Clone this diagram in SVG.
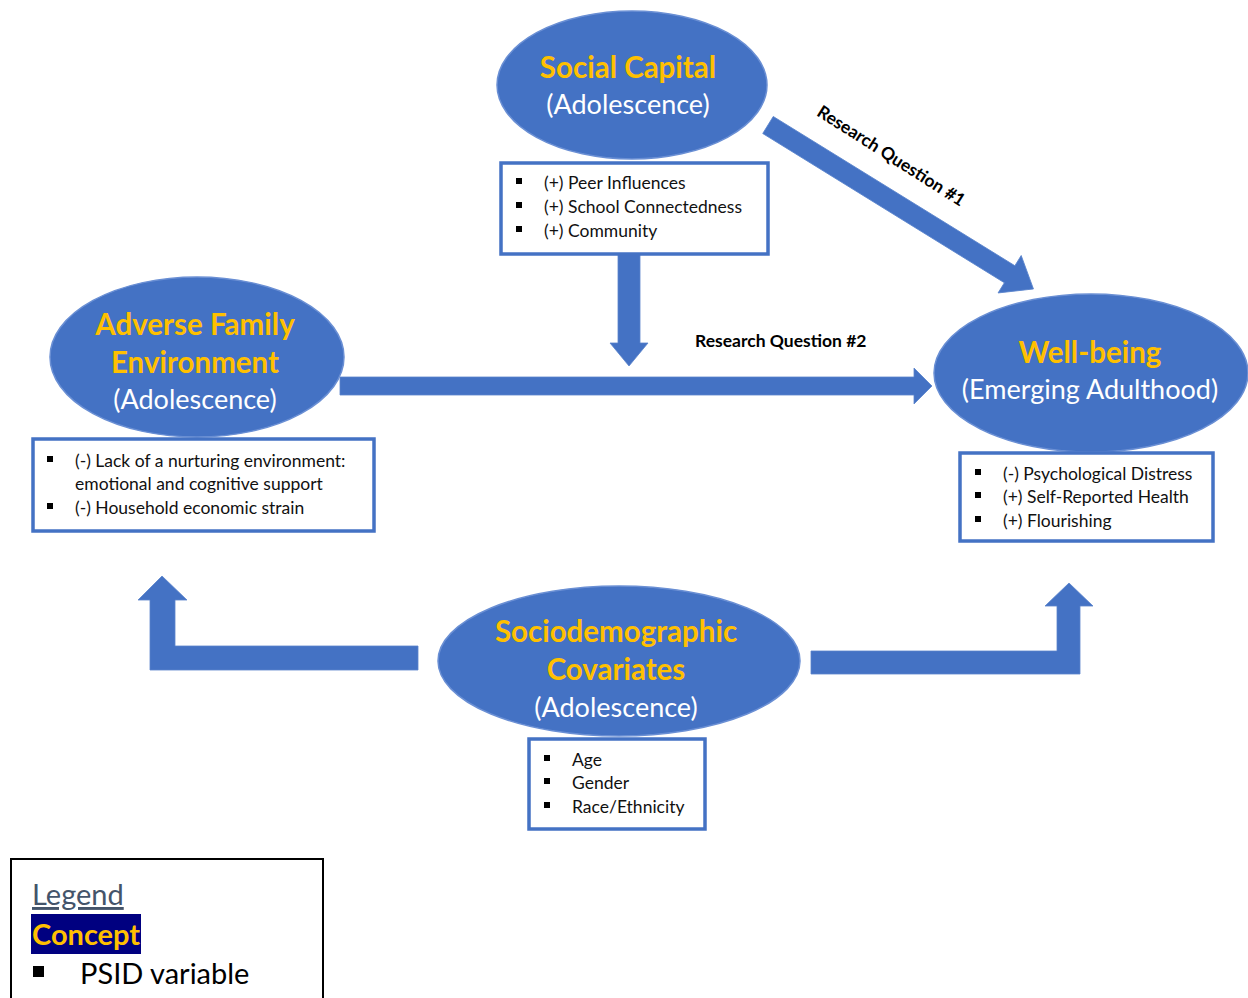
<svg xmlns="http://www.w3.org/2000/svg" width="1248" height="998" viewBox="0 0 1248 998">
<style>
.ell{fill:#4472c4;stroke:#6a8fd4;stroke-width:1.5}
.title{font-family:Lato,"Open Sans",sans-serif;font-weight:bold;fill:#ffc000;font-size:29.5px;text-anchor:middle}
.sub{font-family:Lato,"Open Sans",sans-serif;fill:#ffffff;font-size:27px;text-anchor:middle}
.box{fill:#ffffff;stroke:#4472c4;stroke-width:3.5}
.item{font-family:Lato,"Open Sans",sans-serif;fill:#111;font-size:17.5px}
.arrow{fill:#4472c4;stroke:#5b84cc;stroke-width:0.8}
.lbl{font-family:Lato,"Open Sans",sans-serif;font-weight:bold;fill:#000;font-size:17.5px}
.leg{font-family:Lato,"Open Sans",sans-serif;font-size:29px}
</style>
<rect width="1248" height="998" fill="#ffffff"/>
<g id="connectors">
  <polygon class="arrow" points="618,254 640,254 640,343 648,343 629,366 610,343 618,343"/>
  <polygon class="arrow" points="340,377 914,377 914,368 932,386 914,404 914,395 340,395"/>
  <g transform="translate(768,125) rotate(31.7)">
    <polygon class="arrow" points="0,-10 284,-10 284,-22 312,0 284,22 284,10 0,10"/>
  </g>
  <text class="lbl" transform="translate(888,161) rotate(32.5)" text-anchor="middle">Research Question #1</text>
  <text class="lbl" x="695" y="347">Research Question #2</text>
  <polygon class="arrow" points="418,646 418,670 150,670 150,600 138,600 162,576 187,600 175,600 175,646"/>
  <polygon class="arrow" points="811,651 1057,651 1057,606 1045,606 1069,583 1093,606 1080,606 1080,674 811,674"/>
</g>
<g id="social-capital">
  <ellipse class="ell" cx="632" cy="85" rx="135" ry="74"/>
  <text class="title" x="628" y="78">Social Capital</text>
  <text class="sub" x="628" y="114">(Adolescence)</text>
</g>
<g id="social-capital-vars">
  <rect class="box" x="501" y="163" width="267" height="91"/>
  <rect x="516" y="178" width="6" height="6" fill="#000"/>
  <rect x="516" y="202" width="6" height="6" fill="#000"/>
  <rect x="516" y="226" width="6" height="6" fill="#000"/>
  <text class="item" x="544" y="189">(+) Peer Influences</text>
  <text class="item" x="544" y="213">(+) School Connectedness</text>
  <text class="item" x="544" y="237">(+) Community</text>
</g>
<g id="adverse-family">
  <ellipse class="ell" cx="197" cy="357" rx="147" ry="80"/>
  <text class="title" x="195" y="335">Adverse Family</text>
  <text class="title" x="195" y="373">Environment</text>
  <text class="sub" x="195" y="409">(Adolescence)</text>
</g>
<g id="adverse-family-vars">
  <rect class="box" x="33" y="439" width="341" height="92"/>
  <rect x="47" y="456" width="6" height="6" fill="#000"/>
  <rect x="47" y="503" width="6" height="6" fill="#000"/>
  <text class="item" x="75" y="467">(-) Lack of a nurturing environment:</text>
  <text class="item" x="75" y="490">emotional and cognitive support</text>
  <text class="item" x="75" y="514">(-) Household economic strain</text>
</g>
<g id="well-being">
  <ellipse class="ell" cx="1091" cy="373" rx="157" ry="79"/>
  <text class="title" x="1090" y="363">Well-being</text>
  <text class="sub" x="1090" y="399">(Emerging Adulthood)</text>
</g>
<g id="well-being-vars">
  <rect class="box" x="960" y="453" width="253" height="88"/>
  <rect x="975" y="469" width="6" height="6" fill="#000"/>
  <rect x="975" y="492" width="6" height="6" fill="#000"/>
  <rect x="975" y="516" width="6" height="6" fill="#000"/>
  <text class="item" x="1003" y="480">(-) Psychological Distress</text>
  <text class="item" x="1003" y="503">(+) Self-Reported Health</text>
  <text class="item" x="1003" y="527">(+) Flourishing</text>
</g>
<g id="sociodemographic">
  <ellipse class="ell" cx="619" cy="661" rx="181" ry="75"/>
  <text class="title" x="616" y="642">Sociodemographic</text>
  <text class="title" x="616" y="680">Covariates</text>
  <text class="sub" x="616" y="717">(Adolescence)</text>
</g>
<g id="sociodemographic-vars">
  <rect class="box" x="529" y="739" width="176" height="90"/>
  <rect x="544" y="755" width="6" height="6" fill="#000"/>
  <rect x="544" y="778" width="6" height="6" fill="#000"/>
  <rect x="544" y="802" width="6" height="6" fill="#000"/>
  <text class="item" x="572" y="766">Age</text>
  <text class="item" x="572" y="789">Gender</text>
  <text class="item" x="572" y="813">Race/Ethnicity</text>
</g>
<g id="legend">
  <rect x="11" y="859" width="312" height="145" fill="#ffffff" stroke="#000" stroke-width="2"/>
  <text class="leg" x="32" y="905" fill="#44546a" text-decoration="underline">Legend</text>
  <rect x="31" y="914" width="110" height="40" fill="#000080"/>
  <text class="leg" x="32" y="945" font-size="29.5" font-weight="bold" fill="#ffc000">Concept</text>
  <rect x="33" y="966" width="11" height="11" fill="#000"/>
  <text class="leg" x="80" y="984" fill="#000">PSID variable</text>
</g>
</svg>
